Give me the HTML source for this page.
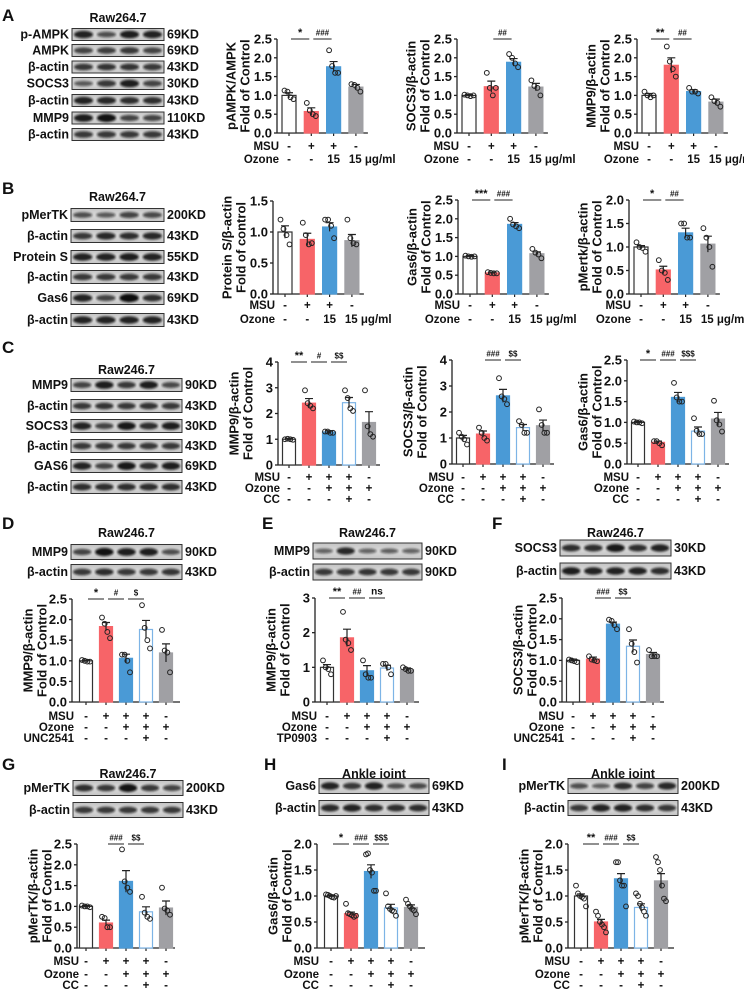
<!DOCTYPE html>
<html><head><meta charset="utf-8">
<style>
html,body{margin:0;padding:0;background:#fff;}
svg{display:block;font-family:"Liberation Sans",Arial,sans-serif;font-weight:bold;}
</style></head>
<body>
<svg id="fig" width="744" height="991" viewBox="0 0 744 991" xmlns="http://www.w3.org/2000/svg">
<defs>
<filter id="blur" x="-20%" y="-50%" width="140%" height="200%"><feGaussianBlur stdDeviation="1.1"/></filter>
<linearGradient id="bg" x1="0" y1="0" x2="0" y2="1"><stop offset="0" stop-color="#c4c4c4"/><stop offset="0.5" stop-color="#dcdcdc"/><stop offset="1" stop-color="#c4c4c4"/></linearGradient>
</defs>
</svg>
<script>
// ---------- DATA ----------
const a1Means=[1.0,0.57,1.76,1.22], a1Sem=[0.07,0.1,0.14,0.07];
const a1Pts=[[1.13,1.1,0.95,0.9],[0.8,0.6,0.5,0.45],[2.2,1.78,1.6,1.6],[1.3,1.28,1.2,1.1]];
const a2Means=[1.0,1.23,1.88,1.22], a2Sem=[0.02,0.15,0.1,0.1];
const a2Pts=[[1.02,1.0,0.98,1.0],[1.6,1.2,1.0,1.2],[2.1,2.0,1.85,1.75],[1.4,1.25,1.2,1.0]];
const a3Means=[1.0,1.8,1.1,0.82], a3Sem=[0.05,0.2,0.05,0.08];
const a3Pts=[[1.1,1.0,0.95,1.0],[2.3,1.9,1.7,1.5],[1.2,1.1,1.1,1.05],[0.95,0.85,0.8,0.7]];
const b1Means=[1.0,0.88,1.08,0.86], b1Sem=[0.1,0.1,0.07,0.1];
const b1Pts=[[1.2,1.05,0.95,0.8],[1.15,0.95,0.8,0.82],[1.2,1.2,1.1,0.9],[1.2,0.9,0.82,0.8]];
const b2Means=[1.0,0.56,1.85,1.07], b2Sem=[0.02,0.02,0.05,0.05];
const b2Pts=[[1.02,1.0,0.99,1.0],[0.58,0.56,0.55,0.55],[2.0,1.85,1.8,1.75],[1.2,1.1,1.05,0.95]];
const b3Means=[1.0,0.51,1.3,1.06], b3Sem=[0.03,0.08,0.1,0.17];
const b3Pts=[[1.1,1.0,0.98,0.9],[0.72,0.5,0.45,0.3],[1.5,1.5,1.2,1.2],[1.4,1.2,1.0,0.58]];
const c1Means=[1.0,2.4,1.28,2.42,1.65], c1Sem=[0.03,0.18,0.05,0.2,0.42];
const c1Pts=[[1.0,1.02,1.0,0.98],[2.9,2.4,2.3,2.2],[1.3,1.3,1.25,1.25],[2.9,2.6,2.2,2.1],[2.9,1.5,1.2,1.1]];
const c2Means=[1.0,1.15,2.62,1.4,1.47], c2Sem=[0.1,0.12,0.25,0.12,0.22];
const c2Pts=[[1.2,1.05,0.95,0.75],[1.4,1.2,1.0,0.9],[3.3,2.6,2.5,2.3],[1.65,1.5,1.2,1.2],[2.1,1.5,1.2,1.2]];
const c3Means=[1.0,0.52,1.6,0.79,1.08], c3Sem=[0.02,0.03,0.12,0.1,0.16];
const c3Pts=[[1.02,1.0,1.0,0.98],[0.55,0.55,0.5,0.45],[1.95,1.6,1.5,1.5],[1.1,0.8,0.72,0.72],[1.52,1.05,0.95,0.78]];
const dMeans=[1.0,1.83,1.06,1.76,1.19], dSem=[0.02,0.1,0.1,0.22,0.22];
const dPts=[[1.02,1.0,0.98,0.98],[2.05,1.9,1.7,1.55],[1.15,1.15,1.0,0.72],[2.35,1.8,1.5,1.3],[1.75,1.25,1.2,0.72]];
const eMeans=[1.0,1.85,0.9,0.98,0.93], eSem=[0.08,0.25,0.15,0.08,0.05];
const ePts=[[1.2,1.0,0.95,0.8],[2.6,1.8,1.7,1.5],[1.2,0.8,0.7,0.7],[1.1,1.1,1.0,0.8],[1.0,0.95,0.9,0.9]];
const fMeans=[1.0,1.03,1.87,1.34,1.14], fSem=[0.03,0.05,0.05,0.15,0.05];
const fPts=[[1.02,1.0,0.98,0.96],[1.1,1.02,1.0,0.98],[1.98,1.95,1.85,1.75],[1.75,1.4,1.2,0.95],[1.25,1.1,1.1,1.1]];
const gMeans=[1.0,0.6,1.6,0.87,0.96], gSem=[0.02,0.07,0.26,0.12,0.17];
const gPts=[[1.02,1.0,1.0,0.98],[0.75,0.72,0.5,0.5],[2.37,1.6,1.45,1.35],[1.23,0.85,0.75,0.7],[1.45,0.95,0.9,0.8]];
const hMeans=[1.0,0.66,1.47,0.77,0.78], hSem=[0.02,0.03,0.13,0.07,0.05];
const hPts=[[1.03,1.02,1.0,0.98,0.97,1.0],[0.85,0.67,0.65,0.63,0.6,0.62],[1.8,1.82,1.5,1.45,1.1,1.1],[1.05,0.8,0.75,0.72,0.7,0.62],[0.93,0.85,0.8,0.75,0.72,0.65]];
const iMeans=[1.0,0.5,1.33,0.78,1.29], iSem=[0.04,0.05,0.1,0.07,0.14];
const iPts=[[1.2,1.05,1.0,0.98,0.95,0.8],[0.7,0.62,0.5,0.45,0.4,0.3],[1.65,1.65,1.3,1.2,1.2,0.8],[1.05,1.0,0.85,0.78,0.7,0.62],[1.75,1.65,1.5,1.2,0.95,0.9]];
const ticks25=["0.0","0.5","1.0","1.5","2.0","2.5"], ticks20=["0.0","0.5","1.0","1.5","2.0"], ticks15=["0.0","0.5","1.0","1.5"];
const ticks4=["0","1","2","3","4"], ticks3=["0","1","2","3"];

// ---------- HELPERS ----------
const NS="http://www.w3.org/2000/svg";
const svg=document.getElementById('fig');
function mk(tag,attrs,parent,txt){const e=document.createElementNS(NS,tag);for(const k in attrs)e.setAttribute(k,attrs[k]);if(txt!==undefined)e.textContent=txt;(parent||svg).appendChild(e);return e;}
function text(x,y,s,size,anchor,parent){return mk('text',{x:x,y:y,'font-size':size,'text-anchor':anchor||'start','dominant-baseline':'central',fill:'#111'},parent,s);}
const STY=[{f:'#fff',s:'#333'},{f:'#f76468',s:'#f76468'},{f:'#4a9ad6',s:'#4a9ad6'},{f:'#fff',s:'#7db4e6'},{f:'#a0a0a4',s:'#a0a0a4'}];

function chart(name,c){
  const g=mk('g',{});
  
  
  const maxV=parseFloat(c.ticks[c.ticks.length-1]);
  const ys=v=>c.y0-(v/maxV)*(c.y0-c.yTop);
  const n=c.means.length;
  const xs=i=>c.ax+c.off+i*c.sp;
  const xEnd=xs(n-1)+c.off;
  const ya=mk('line',{x1:c.ax,y1:c.yTop,x2:c.ax,y2:c.y0,stroke:'#222','stroke-width':1.3},g);
  
  const xa=mk('line',{x1:c.ax,y1:c.y0,x2:xEnd,y2:c.y0,stroke:'#222','stroke-width':1.3},g);
  
  c.ticks.forEach(t=>{const y=ys(parseFloat(t));
    mk('line',{x1:c.ax-3,y1:y,x2:c.ax,y2:y,stroke:'#222','stroke-width':1.3},g);
    const tl=text(c.ax-5,y,t,13,'end',g);
    });
  for(let i=0;i<n;i++){mk('line',{x1:xs(i),y1:c.y0,x2:xs(i),y2:c.y0+3,stroke:'#222','stroke-width':1.2},g);}
  c.means.forEach((m,i)=>{const st=STY[c.styles[i]];const y=ys(m);
    const b=mk('rect',{x:xs(i)-c.bw/2,y:y,width:c.bw,height:c.y0-y,fill:st.f,stroke:st.s,'stroke-width':1.2},g);
    });
  c.means.forEach((m,i)=>{const x=xs(i),s=c.sems[i];
    const e=mk('path',{d:`M${x},${ys(m-s)}V${ys(m+s)}M${x-4},${ys(m+s)}H${x+4}`,stroke:'#222','stroke-width':1.2,fill:'none'},g);
    });
  c.pts.forEach((arr,i)=>{const k=arr.length;arr.forEach((v,j)=>{
    const dx=(k===1)?0:(-c.jit+2*c.jit*j/(k-1));
    const p=mk('circle',{cx:xs(i)+dx,cy:ys(v),r:2.4,fill:'none',stroke:'#222','stroke-width':1},g);
    });});
  (c.sig||[]).forEach(s=>{const x1=xs(s[0])+2,x2=xs(s[1])-2,y=c.yTop;
    mk('line',{x1:x1,y1:y,x2:x2,y2:y,stroke:'#222','stroke-width':1},g);
    const st=text((x1+x2)/2,y-6,s[2],s[2]==='ns'?10:(s[2][0]==='*'?11:8),'middle',g);
    });
  const cy=(c.y0+c.yTop)/2;
  const t1=mk('text',{x:0,y:0,'font-size':13,'text-anchor':'middle','dominant-baseline':'central',fill:'#111',transform:`translate(${c.ax-c.yl},${cy}) rotate(-90)`},g,c.ylab1);
  
  const t2=mk('text',{x:0,y:0,'font-size':13,'text-anchor':'middle','dominant-baseline':'central',fill:'#111',transform:`translate(${c.ax-c.yl+14},${cy}) rotate(-90)`},g,c.ylab2);
  
  c.rows.forEach((r,ri)=>{const y=c.rowY[ri];
    const rl=text(c.ax+2,y,r[0],11.5,'end',g);
    
    r[1].forEach((s,i)=>{let t;
      if(s.indexOf('μg')>=0){t=text(xs(i)-7,y,s,11.5,'start',g);}else{t=text(xs(i),y,s,11.5,'middle',g);}
      });});
}

function blot(name,b){
  const g=mk('g',{});
  
  
  const tt=text((b.x1+b.x2)/2,b.titleY,b.title,12.5,'middle',g);
  
  const lanes=b.lanes, lw=(b.x2-b.x1)/lanes;
  b.rows.forEach((r,ri)=>{const cy=b.ys[ri],h=b.h;
    mk('rect',{x:b.x1,y:cy-h/2,width:b.x2-b.x1,height:h,fill:'url(#bg)',stroke:'#333','stroke-width':1},g);
    for(let l=0;l<lanes;l++){const inten=r[2][l];
      mk('ellipse',{cx:b.x1+lw*(l+0.5),cy:cy,rx:lw*0.42,ry:2+inten*2.2,fill:'#111','fill-opacity':0.5+inten*0.5,filter:'url(#blur)'},g);}
    const l1=text(b.x1-3,cy,r[0],12.5,'end',g);
    
    const l2=text(b.x2+3,cy,r[1],12.5,'start',g);
    });
}

function letter(ch,x,y){const t=mk('text',{x:x,y:y,'font-size':17,fill:'#111'},svg,ch);
  }

// ---------- PANELS ----------
const R4=[["MSU",["-","+","+","-"]],["Ozone",["-","-","15","15 μg/ml"]]];
function R5(third){return [["MSU",["-","+","+","+","-"]],["Ozone",["-","-","+","+","+"]],[third,["-","-","-","+","-"]]];}
const S4=[0,1,2,4], S5=[0,1,2,3,4];

letter('A',2,21);letter('B',2,194);letter('C',2,353);
letter('D',2,529);letter('E',262,529);letter('F',492,529);
letter('G',2,770);letter('H',264,770);letter('I',502,770);

blot('blot-a',{x1:72,x2:164,lanes:4,h:12,title:'Raw264.7',titleY:18,ys:[34.5,50.5,67,83.5,100.5,118,134.5],rows:[
 ['p-AMPK','69KD',[0.8,0.4,0.85,0.8]],['AMPK','69KD',[0.5,0.55,0.6,0.5]],['β-actin','43KD',[0.6,0.65,0.65,0.6]],
 ['SOCS3','30KD',[0.3,0.6,0.85,0.5]],['β-actin','43KD',[0.8,0.75,0.7,0.7]],['MMP9','110KD',[0.85,0.95,0.5,0.5]],['β-actin','43KD',[0.6,0.6,0.6,0.6]]]});
blot('blot-b',{x1:71,x2:164,lanes:4,h:13,title:'Raw264.7',titleY:197,ys:[215,236,257,277,298,320],rows:[
 ['pMerTK','200KD',[0.4,0.3,0.5,0.45]],['β-actin','43KD',[0.6,0.75,0.7,0.75]],['Protein S','55KD',[0.8,0.8,0.85,0.8]],
 ['β-actin','43KD',[0.6,0.6,0.6,0.6]],['Gas6','69KD',[0.8,0.5,1.0,0.7]],['β-actin','43KD',[0.8,0.8,0.8,0.8]]]});
blot('blot-c',{x1:71,x2:182,lanes:5,h:13,title:'Raw246.7',titleY:370,ys:[385,406,426,446,466,487],rows:[
 ['MMP9','90KD',[0.5,0.85,0.6,0.85,0.45]],['β-actin','43KD',[0.6,0.65,0.6,0.65,0.6]],['SOCS3','30KD',[0.8,0.5,0.9,0.7,0.85]],
 ['β-actin','43KD',[0.6,0.6,0.6,0.6,0.6]],['GAS6','69KD',[0.8,0.5,0.9,0.7,0.85]],['β-actin','43KD',[0.7,0.7,0.7,0.7,0.7]]]});
blot('blot-d',{x1:71,x2:182,lanes:5,h:15,title:'Raw246.7',titleY:533,ys:[552,572],rows:[
 ['MMP9','90KD',[0.5,0.95,0.85,0.85,0.4]],['β-actin','43KD',[0.6,0.7,0.6,0.6,0.65]]]});
blot('blot-e',{x1:313,x2:422,lanes:5,h:16,title:'Raw246.7',titleY:533,ys:[551,572],rows:[
 ['MMP9','90KD',[0.2,0.75,0.2,0.25,0.2]],['β-actin','90KD',[0.6,0.6,0.65,0.6,0.6]]]});
blot('blot-f',{x1:560,x2:671,lanes:5,h:16,title:'Raw246.7',titleY:533,ys:[548,571],rows:[
 ['SOCS3','30KD',[0.7,0.7,0.9,0.7,0.8]],['β-actin','43KD',[0.85,0.8,0.8,0.8,0.7]]]});
blot('blot-g',{x1:73,x2:183,lanes:5,h:15,title:'Raw246.7',titleY:774,ys:[788,810],rows:[
 ['pMerTK','200KD',[0.7,0.6,0.95,0.6,0.5]],['β-actin','43KD',[0.6,0.6,0.6,0.6,0.6]]]});
blot('blot-h',{x1:319,x2:429,lanes:5,h:15,title:'Ankle joint',titleY:774,ys:[786,808],rows:[
 ['Gas6','69KD',[0.8,0.6,0.8,0.4,0.45]],['β-actin','43KD',[0.75,0.8,0.7,0.7,0.7]]]});
blot('blot-i',{x1:568,x2:678,lanes:5,h:15,title:'Ankle joint',titleY:774,ys:[786,808],rows:[
 ['pMerTK','200KD',[0.4,0.25,0.7,0.5,0.75]],['β-actin','43KD',[0.6,0.8,0.8,0.7,0.6]]]});

const AB={bw:14,sp:22.3,off:12,jit:4.5,yl:46,styles:S4,rows:R4};
chart('chart-a-pampk',Object.assign({},AB,{ax:277,yTop:39,y0:133,ticks:ticks25,means:a1Means,sems:a1Sem,pts:a1Pts,ylab1:'pAMPK/AMPK',ylab2:'Fold of Control',rowY:[147,160],sig:[[0,1,'*'],[1,2,'###']]}));
chart('chart-a-socs3',Object.assign({},AB,{ax:457,yTop:39,y0:133,ticks:ticks25,means:a2Means,sems:a2Sem,pts:a2Pts,ylab1:'SOCS3/β-actin',ylab2:'Fold of Control',rowY:[147,160],sig:[[1,2,'##']]}));
chart('chart-a-mmp9',Object.assign({},AB,{ax:637,yTop:39,y0:133,ticks:ticks25,means:a3Means,sems:a3Sem,pts:a3Pts,ylab1:'MMP9/β-actin',ylab2:'Fold of Control',rowY:[147,160],sig:[[0,1,'**'],[1,2,'##']]}));
chart('chart-b-protein-s',Object.assign({},AB,{ax:273,yTop:201,y0:294,ticks:ticks15,means:b1Means,sems:b1Sem,pts:b1Pts,ylab1:'Protein S/β-actin',ylab2:'Fold of control',rowY:[306,320],sig:[]}));
chart('chart-b-gas6',Object.assign({},AB,{ax:458,yTop:200,y0:294,ticks:ticks25,means:b2Means,sems:b2Sem,pts:b2Pts,ylab1:'Gas6/β-actin',ylab2:'Fold of Control',rowY:[306,320],sig:[[0,1,'***'],[1,2,'###']]}));
chart('chart-b-pmertk',Object.assign({},AB,{ax:629,yTop:200,y0:294,ticks:ticks20,means:b3Means,sems:b3Sem,pts:b3Pts,ylab1:'pMertk/β-actin',ylab2:'Fold of Control',rowY:[306,320],sig:[[0,1,'*'],[1,2,'##']]}));

const CD={bw:13,sp:20,off:11,jit:4,yl:44,styles:S5};
chart('chart-c-mmp9',Object.assign({},CD,{ax:278,yTop:362,y0:465,ticks:ticks4,means:c1Means,sems:c1Sem,pts:c1Pts,ylab1:'MMP9/β-actin',ylab2:'Fold of Control',rows:R5('CC'),rowY:[478,489,500],sig:[[0,1,'**'],[1,2,'#'],[2,3,'$$']]}));
chart('chart-c-socs3',Object.assign({},CD,{ax:452,yTop:360,y0:464,ticks:ticks4,means:c2Means,sems:c2Sem,pts:c2Pts,ylab1:'SOCS3/β-actin',ylab2:'Fold of Control',rows:R5('CC'),rowY:[478,489,500],sig:[[1,2,'###'],[2,3,'$$']]}));
chart('chart-c-gas6',Object.assign({},CD,{ax:627,yTop:360,y0:464,ticks:ticks25,means:c3Means,sems:c3Sem,pts:c3Pts,ylab1:'Gas6/β-actin',ylab2:'Fold of Control',rows:R5('CC'),rowY:[478,489,500],sig:[[0,1,'*'],[1,2,'###'],[2,3,'$$$']]}));
chart('chart-d-mmp9',Object.assign({},CD,{ax:72,off:14,yTop:599,y0:702,ticks:ticks25,means:dMeans,sems:dSem,pts:dPts,ylab1:'MMP9/β-actin',ylab2:'Fold of Control',rows:R5('UNC2541'),rowY:[717,728,739],sig:[[0,1,'*'],[1,2,'#'],[2,3,'$']]}));
chart('chart-e-mmp9',Object.assign({},CD,{ax:315,off:12,yTop:598,y0:702,ticks:ticks3,means:eMeans,sems:eSem,pts:ePts,ylab1:'MMP9/β-actin',ylab2:'Fold of Control',rows:R5('TP0903'),rowY:[717,728,739],sig:[[0,1,'**'],[1,2,'##'],[2,3,'ns']]}));
chart('chart-f-socs3',Object.assign({},CD,{ax:562,yTop:598,y0:702,ticks:ticks25,means:fMeans,sems:fSem,pts:fPts,ylab1:'SOCS3/β-actin',ylab2:'Fold of Control',rows:R5('UNC2541'),rowY:[717,728,739],sig:[[1,2,'###'],[2,3,'$$']]}));
chart('chart-g-pmertk',Object.assign({},CD,{ax:77,off:9,yTop:844,y0:948,ticks:ticks25,means:gMeans,sems:gSem,pts:gPts,ylab1:'pMerTK/β-actin',ylab2:'Fold of Control',rows:R5('CC'),rowY:[962,975,986],sig:[[1,2,'###'],[2,3,'$$']]}));
chart('chart-h-gas6',Object.assign({},CD,{ax:317,off:14,jit:5,yTop:844,y0:948,ticks:ticks20,means:hMeans,sems:hSem,pts:hPts,ylab1:'Gas6/β-actin',ylab2:'Fold of Control',rows:R5('CC'),rowY:[962,975,986],sig:[[0,1,'*'],[1,2,'###'],[2,3,'$$$']]}));
chart('chart-i-pmertk',Object.assign({},CD,{ax:568,off:13,jit:5,yTop:844,y0:948,ticks:ticks20,means:iMeans,sems:iSem,pts:iPts,ylab1:'pMerTK/β-actin',ylab2:'Fold of Control',rows:R5('CC'),rowY:[962,975,986],sig:[[0,1,'**'],[1,2,'###'],[2,3,'$$']]}));
</script>
</body></html>
